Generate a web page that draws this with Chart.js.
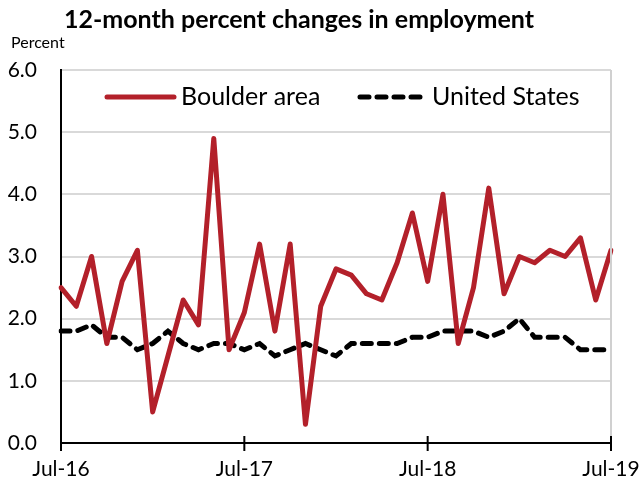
<!DOCTYPE html>
<html lang="en">
<head>
<meta charset="UTF-8">
<title>12-month percent changes in employment</title>
<style>
  html, body { margin: 0; padding: 0; background: #fff; }
  #wrap { width: 640px; height: 477px; }
</style>
</head>
<body>
<div id="wrap"><canvas id="myChart" width="640" height="477"></canvas></div>

<script src="https://cdn.jsdelivr.net/npm/chart.js"></script>
<script>
// months Jul-16 .. Jul-19
const months = [
  "Jul-16","Aug-16","Sep-16","Oct-16","Nov-16","Dec-16","Jan-17","Feb-17","Mar-17","Apr-17","May-17","Jun-17",
  "Jul-17","Aug-17","Sep-17","Oct-17","Nov-17","Dec-17","Jan-18","Feb-18","Mar-18","Apr-18","May-18","Jun-18",
  "Jul-18","Aug-18","Sep-18","Oct-18","Nov-18","Dec-18","Jan-19","Feb-19","Mar-19","Apr-19","May-19","Jun-19",
  "Jul-19"
];
const shownLabels = ["Jul-16", "Jul-17", "Jul-18", "Jul-19"];

const boulder = [
  2.5, 2.2, 3.0, 1.6, 2.6, 3.1, 0.5, 1.4, 2.3, 1.9, 4.9, 1.5,
  2.1, 3.2, 1.8, 3.2, 0.3, 2.2, 2.8, 2.7, 2.4, 2.3, 2.9, 3.7,
  2.6, 4.0, 1.6, 2.5, 4.1, 2.4, 3.0, 2.9, 3.1, 3.0, 3.3, 2.3,
  3.1
];
const unitedStates = [
  1.8, 1.8, 1.9, 1.7, 1.7, 1.5, 1.6, 1.8, 1.6, 1.5, 1.6, 1.6,
  1.5, 1.6, 1.4, 1.5, 1.6, 1.5, 1.4, 1.6, 1.6, 1.6, 1.6, 1.7,
  1.7, 1.8, 1.8, 1.8, 1.7, 1.8, 2.0, 1.7, 1.7, 1.7, 1.5, 1.5,
  1.5
];
const yTicks = [0, 1, 2, 3, 4, 5, 6];

const RED = "#b3202a";
const FONT = "Lato, 'Open Sans', sans-serif";
const usDash = [9, 8];

// title, "Percent", right border, year ticks, legend
const extras = {
  id: "extras",
  afterDraw(chart) {
    const ctx = chart.ctx;
    const area = chart.chartArea;
    const x = chart.scales.x;
    ctx.save();

    ctx.fillStyle = "#000";
    ctx.textBaseline = "middle";
    ctx.textAlign = "center";
    ctx.font = "bold 25px " + FONT;
    ctx.fillText("12-month percent changes in employment", 299, 20);

    ctx.textAlign = "left";
    ctx.font = "16px " + FONT;
    ctx.fillText("Percent", 11, 43);

    // right border
    ctx.strokeStyle = "#d0d0d0";
    ctx.lineWidth = 2;
    ctx.beginPath();
    ctx.moveTo(area.right, area.top);
    ctx.lineTo(area.right, area.bottom);
    ctx.stroke();

    // year tick marks crossing the axis
    ctx.strokeStyle = "#000";
    ctx.lineWidth = 2;
    months.forEach((m, i) => {
      if (shownLabels.indexOf(m) < 0) return;
      const px = x.getPixelForValue(i);
      ctx.beginPath();
      ctx.moveTo(px, area.bottom - 7);
      ctx.lineTo(px, area.bottom + 8);
      ctx.stroke();
    });

    // legend
    const ly = 97;
    ctx.lineWidth = 5;
    ctx.lineCap = "round";
    ctx.strokeStyle = RED;
    ctx.beginPath();
    ctx.moveTo(107, ly);
    ctx.lineTo(174, ly);
    ctx.stroke();

    ctx.strokeStyle = "#000";
    ctx.setLineDash(usDash);
    ctx.beginPath();
    ctx.moveTo(360, ly);
    ctx.lineTo(424, ly);
    ctx.stroke();
    ctx.setLineDash([]);

    ctx.fillStyle = "#000";
    ctx.font = "25px " + FONT;
    ctx.fillText("Boulder area", 181, ly);
    ctx.fillText("United States", 432, ly);
    ctx.restore();
  }
};

const ctx = document.getElementById("myChart").getContext("2d");
const MyChart = new Chart(ctx, {
  type: "line",
  data: {
    labels: months,
    datasets: [
      {
        label: "Boulder area",
        data: boulder,
        borderColor: RED,
        borderWidth: 5,
        pointRadius: 0,
        tension: 0,
        borderJoinStyle: "round",
        borderCapStyle: "round"
      },
      {
        label: "United States",
        data: unitedStates,
        borderColor: "#000",
        borderWidth: 5,
        borderDash: usDash,
        borderCapStyle: "round",
        pointRadius: 0,
        tension: 0
      }
    ]
  },
  options: {
    responsive: false,
    animation: false,
    events: [],
    layout: { padding: { top: 70, right: 29, left: 0, bottom: 0 } },
    plugins: {
      legend: { display: false },
      title: { display: false },
      tooltip: { enabled: false }
    },
    scales: {
      x: {
        offset: false,
        grid: { display: false },
        border: { display: true, color: "#000", width: 2 },
        ticks: {
          autoSkip: false,
          maxRotation: 0,
          padding: 6,
          color: "#000",
          font: { family: FONT, size: 21 },
          callback: function(v, i) {
            const m = months[i];
            return shownLabels.indexOf(m) >= 0 ? m : "";
          }
        },
        afterFit: function(scale) {
          scale.height = 34;
          scale.paddingLeft = 0;
          scale.paddingRight = 0;
        }
      },
      y: {
        min: yTicks[0],
        max: yTicks[yTicks.length - 1],
        afterBuildTicks: function(scale) {
          scale.ticks = yTicks.map(v => ({ value: v }));
        },
        grid: {
          color: "#d9d9d9",
          lineWidth: 2,
          drawTicks: false
        },
        border: { display: true, color: "#000", width: 2 },
        ticks: {
          padding: 24,
          color: "#000",
          font: { family: FONT, size: 21 },
          callback: v => v.toFixed(1)
        },
        afterFit: function(scale) {
          scale.width = 61;
          scale.paddingBottom = 0;
        }
      }
    }
  },
  plugins: [extras]
});
</script>
</body>
</html>
